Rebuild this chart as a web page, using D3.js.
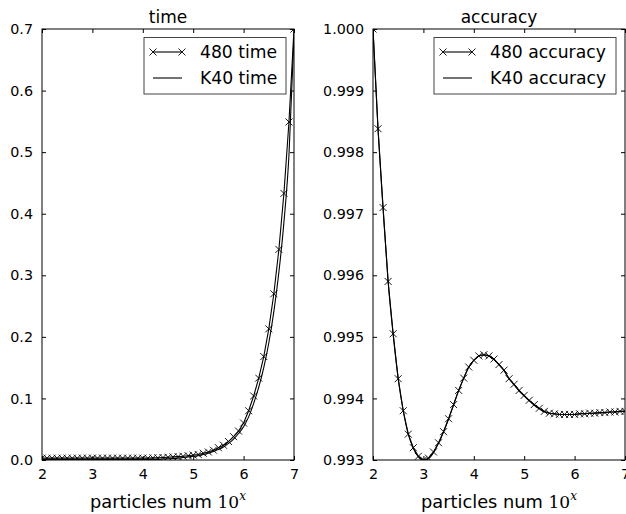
<!DOCTYPE html>
<html>
<head>
<meta charset="utf-8">
<script src="https://cdn.jsdelivr.net/npm/d3@7"></script>
<style>
  body { margin: 0; background: #fff; }
  text { font-family: "DejaVu Sans", sans-serif; fill: #000; }
</style>
</head>
<body>
<div id="chart"></div>
<script>
// x values: log10 of particle count
var particles = [2.0, 2.1, 2.2, 2.3, 2.4, 2.5, 2.6, 2.7, 2.8, 2.9,
                 3.0, 3.1, 3.2, 3.3, 3.4, 3.5, 3.6, 3.7, 3.8, 3.9,
                 4.0, 4.1, 4.2, 4.3, 4.4, 4.5, 4.6, 4.7, 4.8, 4.9,
                 5.0, 5.1, 5.2, 5.3, 5.4, 5.5, 5.6, 5.7, 5.8, 5.9,
                 6.0, 6.1, 6.2, 6.3, 6.4, 6.5, 6.6, 6.7, 6.8, 6.9, 7.0];

var time480 = [0.003, 0.003, 0.003, 0.003, 0.003, 0.003, 0.003, 0.003, 0.003, 0.003,
               0.003, 0.003, 0.003, 0.003, 0.003, 0.003, 0.003, 0.003, 0.003, 0.003,
               0.003, 0.003, 0.0035, 0.0035, 0.004, 0.0045, 0.005, 0.0055, 0.006, 0.007,
               0.008, 0.009, 0.011, 0.013, 0.016, 0.020, 0.024, 0.030, 0.038, 0.047,
               0.060, 0.080, 0.104, 0.133, 0.168, 0.213, 0.270, 0.342, 0.433, 0.549, 0.700];

var timeK40 = [0.001, 0.001, 0.001, 0.001, 0.001, 0.001, 0.001, 0.001, 0.001, 0.001,
               0.001, 0.001, 0.001, 0.001, 0.001, 0.001, 0.001, 0.001, 0.001, 0.001,
               0.001, 0.001, 0.001, 0.001, 0.0015, 0.002, 0.0025, 0.003, 0.004, 0.005,
               0.006, 0.007, 0.009, 0.011, 0.014, 0.017, 0.021, 0.027, 0.034, 0.043,
               0.054, 0.070, 0.092, 0.118, 0.150, 0.190, 0.241, 0.305, 0.386, 0.495, 0.690];

var acc480 = [1.00000, 0.99838, 0.99710, 0.99590, 0.99505, 0.99432, 0.99380, 0.99342, 0.99320, 0.99306,
              0.99300, 0.99303, 0.99313, 0.99328, 0.99346, 0.99367, 0.99390, 0.99413, 0.99433, 0.99451,
              0.99462, 0.99469, 0.99471, 0.99469, 0.99464, 0.99455, 0.99446, 0.99432, 0.99423, 0.99413,
              0.99405, 0.99397, 0.99390, 0.99384, 0.99379, 0.99376, 0.99375, 0.99374, 0.99374, 0.99374,
              0.99374, 0.99375, 0.99375, 0.99376, 0.99376, 0.99377, 0.99377, 0.99378, 0.99378, 0.99379, 0.99379];

var accK40 = [1.00000, 0.99836, 0.99708, 0.99590, 0.99504, 0.99432, 0.99380, 0.99342, 0.99319, 0.99305,
              0.99299, 0.99302, 0.99312, 0.99327, 0.99346, 0.99367, 0.99390, 0.99413, 0.99433, 0.99451,
              0.99462, 0.99469, 0.99471, 0.99469, 0.99463, 0.99455, 0.99445, 0.99432, 0.99422, 0.99412,
              0.99404, 0.99396, 0.99389, 0.99383, 0.99378, 0.99376, 0.99375, 0.99374, 0.99374, 0.99374,
              0.99374, 0.99375, 0.99375, 0.99376, 0.99376, 0.99377, 0.99377, 0.99378, 0.99378, 0.99379, 0.99379];

var xTicks = [2, 3, 4, 5, 6, 7];
var timeTicks = [0.0, 0.1, 0.2, 0.3, 0.4, 0.5, 0.6, 0.7];
var accTicks = [0.993, 0.994, 0.995, 0.996, 0.997, 0.998, 0.999, 1.000];

var panels = [
  { title: "time", left: 42, ys: [time480, timeK40], names: ["480 time", "K40 time"],
    domain: [0, 0.7], ticks: timeTicks, fmt: d3.format(".1f"), legend: [144, 286] },
  { title: "accuracy", left: 373, ys: [acc480, accK40], names: ["480 accuracy", "K40 accuracy"],
    domain: [0.993, 1.0], ticks: accTicks, fmt: d3.format(".3f"), legend: [434, 616] }
];

var W = 626, H = 514;
var plotTop = 29, plotBottom = 460, pw = 252;

var svg = d3.select("#chart")
    .append("svg")
    .attr("width", W)
    .attr("height", H);

panels.forEach(function (p, i) {
  var x = d3.scaleLinear().domain([2, 7]).range([p.left, p.left + pw]);
  var y = d3.scaleLinear().domain(p.domain).range([plotBottom, plotTop]);

  var g = svg.append("g");

  svg.append("clipPath").attr("id", "clip" + i)
    .append("rect")
    .attr("x", p.left).attr("y", plotTop)
    .attr("width", pw).attr("height", plotBottom - plotTop);

  var plot = g.append("g").attr("clip-path", "url(#clip" + i + ")");

  // K40 smooth line
  var smooth = d3.line()
      .x(function (d, j) { return x(particles[j]); })
      .y(function (d) { return y(d); })
      .curve(d3.curveMonotoneX);
  plot.append("path")
    .datum(p.ys[1])
    .attr("d", smooth)
    .attr("fill", "none")
    .attr("stroke", "#000")
    .attr("stroke-width", 1.1);

  // 480 line with x markers
  var straight = d3.line()
      .x(function (d, j) { return x(particles[j]); })
      .y(function (d) { return y(d); });
  plot.append("path")
    .datum(p.ys[0])
    .attr("d", straight)
    .attr("fill", "none")
    .attr("stroke", "#000")
    .attr("stroke-width", 1.1);

  plot.selectAll(".mk")
    .data(p.ys[0])
    .enter()
    .append("path")
    .attr("transform", function (d, j) { return "translate(" + x(particles[j]) + "," + y(d) + ")"; })
    .attr("d", "M-3.5,-3.5L3.5,3.5M-3.5,3.5L3.5,-3.5")
    .attr("stroke", "#000")
    .attr("stroke-width", 0.9)
    .attr("fill", "none");

  // axes, ticks inward on all sides
  var bx = d3.axisBottom(x).tickValues(xTicks).tickSize(-4).tickPadding(9).tickFormat(d3.format("d"));
  var tx = d3.axisTop(x).tickValues(xTicks).tickSize(-4).tickFormat("");
  var ly = d3.axisLeft(y).tickValues(p.ticks).tickSize(-4).tickPadding(9).tickFormat(p.fmt);
  var ry = d3.axisRight(y).tickValues(p.ticks).tickSize(-4).tickFormat("");

  [[bx, "translate(0," + plotBottom + ")"], [tx, "translate(0," + plotTop + ")"],
   [ly, "translate(" + p.left + ",0)"], [ry, "translate(" + (p.left + pw) + ",0)"]].forEach(function (a) {
    var ax = g.append("g").attr("transform", a[1]).call(a[0]);
    ax.select(".domain").remove();
    ax.selectAll("text").style("font-size", "14.3px").style("font-family", "DejaVu Sans");
    ax.selectAll("line").attr("stroke", "#000");
  });

  g.append("rect")
    .attr("x", p.left).attr("y", plotTop)
    .attr("width", pw).attr("height", plotBottom - plotTop)
    .attr("fill", "none").attr("stroke", "#000").attr("stroke-width", 1);

  // title
  g.append("text")
    .attr("x", p.left + pw / 2)
    .attr("y", 23)
    .attr("text-anchor", "middle")
    .style("font-size", "17px")
    .text(p.title);

  // x label
  var xl = g.append("text")
    .attr("x", p.left + pw / 2)
    .attr("y", 508)
    .attr("text-anchor", "middle")
    .style("font-size", "17.8px");
  xl.append("tspan").text("particles num ");
  xl.append("tspan").style("font-family", "DejaVu Serif").style("font-size", "17px").text("10");
  xl.append("tspan").attr("dy", -8).style("font-family", "DejaVu Serif").style("font-style", "italic")
    .style("font-size", "12px").text("x");

  // legend
  var lg = g.append("g");
  lg.append("rect")
    .attr("x", p.legend[0]).attr("y", 37.5)
    .attr("width", p.legend[1] - p.legend[0]).attr("height", 56.5)
    .attr("fill", "#fff").attr("stroke", "#444").attr("stroke-width", 1);
  [52, 78].forEach(function (ly0, k) {
    var lx = p.legend[0] + 9;
    lg.append("line")
      .attr("x1", lx).attr("x2", lx + 29)
      .attr("y1", ly0).attr("y2", ly0)
      .attr("stroke", "#000").attr("stroke-width", 1.1);
    if (k === 0) {
      [lx, lx + 29].forEach(function (mx) {
        lg.append("path")
          .attr("transform", "translate(" + mx + "," + ly0 + ")")
          .attr("d", "M-3.5,-3.5L3.5,3.5M-3.5,3.5L3.5,-3.5")
          .attr("stroke", "#000").attr("stroke-width", 0.9);
      });
    }
    lg.append("text")
      .attr("x", lx + 47)
      .attr("y", ly0 + 6)
      .style("font-size", "17.2px")
      .text(p.names[k]);
  });
});
</script>
</body>
</html>
